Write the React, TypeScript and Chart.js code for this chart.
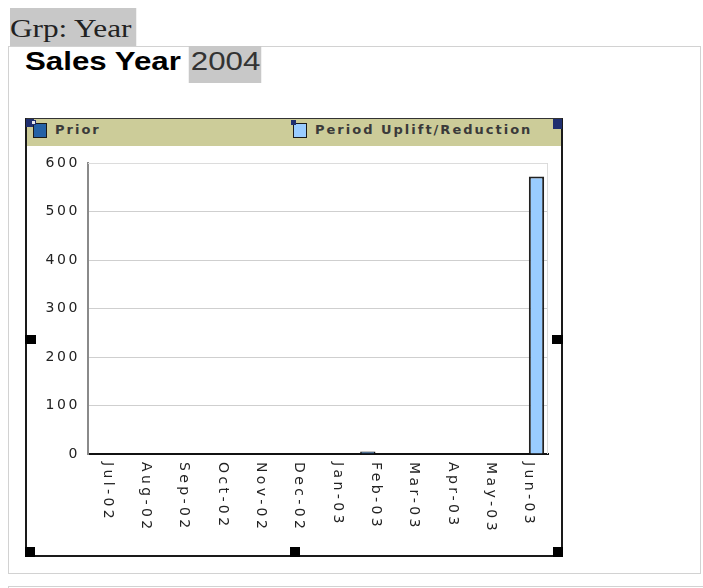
import React, { useEffect, useRef } from "react";
import { Chart, registerables } from "chart.js";

Chart.register(...registerables);

// ---- data ----
const categories = ["Jul-02", "Aug-02", "Sep-02", "Oct-02", "Nov-02", "Dec-02", "Jan-03", "Feb-03", "Mar-03", "Apr-03", "May-03", "Jun-03"];
const priorValues = [null, null, null, null, null, null, null, 5, null, null, null, null];
const upliftValues = [null, null, null, null, null, null, null, null, null, null, null, 572];
const seriesNames = ["Prior", "Period Uplift/Reduction"];
const yTickMin = 0;
const yTickMax = 600;
const yTickStep = 100;
const groupLabel = "Grp: Year";
const headingText = "Sales Year";
const headingYear = "2004";

// ---- styles ----
const seriesFill = ["#2462a6", "#99ccff"];
const seriesBorder = ["#111111", "#222222"];
const legendOffsets = [6, 266];

const chartDecor = {
  id: "chartDecor",
  beforeDraw(chart: any) {
    chart.ctx.letterSpacing = "2.6px";
  },
  beforeDatasetsDraw(chart: any) {
    const { ctx, chartArea } = chart;
    ctx.save();
    ctx.strokeStyle = "#dcdcdc";
    ctx.lineWidth = 1;
    ctx.beginPath();
    ctx.moveTo(chartArea.left, chartArea.top + 0.5);
    ctx.lineTo(chartArea.right - 0.5, chartArea.top + 0.5);
    ctx.lineTo(chartArea.right - 0.5, chartArea.bottom);
    ctx.stroke();
    ctx.restore();
  },
  afterDraw(chart: any) {
    const { ctx, chartArea } = chart;
    const xs = chart.scales.x;
    ctx.save();
    ctx.font = '14px "DejaVu Sans"';
    ctx.letterSpacing = "3.4px";
    ctx.fillStyle = "#222222";
    ctx.textAlign = "left";
    ctx.textBaseline = "middle";
    (chart.data.labels as string[]).forEach((lab, i) => {
      const x = xs.getPixelForTick(i);
      ctx.save();
      ctx.translate(x, chartArea.bottom + 8);
      ctx.rotate(Math.PI / 2);
      ctx.fillText(lab, 0, 0);
      ctx.restore();
    });
    ctx.restore();
  },
};

function Handle({ x, y, w, h, color }: { x: number; y: number; w: number; h: number; color?: string }) {
  return <div style={{ position: "absolute", left: x, top: y, width: w, height: h, background: color || "#000" }} />;
}

export default function App() {
  const ref = useRef<HTMLCanvasElement>(null);

  useEffect(() => {
    const chart = new Chart(ref.current!, {
      type: "bar",
      data: {
        labels: categories,
        datasets: [
          {
            label: seriesNames[0],
            data: priorValues as any,
            backgroundColor: seriesFill[0],
            borderColor: seriesBorder[0],
            borderWidth: 1.5,
          },
          {
            label: seriesNames[1],
            data: upliftValues as any,
            backgroundColor: seriesFill[1],
            borderColor: seriesBorder[1],
            borderWidth: 2,
          },
        ],
      },
      options: {
        responsive: false,
        animation: false,
        devicePixelRatio: 1,
        layout: { padding: { top: 17, right: 13, left: 0, bottom: 0 } },
        datasets: { bar: { categoryPercentage: 0.8, barPercentage: 1.0 } },
        plugins: { legend: { display: false }, tooltip: { enabled: false } },
        scales: {
          x: {
            grid: { display: false, drawTicks: false },
            border: { display: true, color: "#111111", width: 2 },
            ticks: { display: false },
            afterFit: (s: any) => {
              s.height = 101;
            },
          },
          y: {
            min: yTickMin,
            max: yTickMax,
            grid: { color: "#cfcfcf", lineWidth: 1, drawTicks: false },
            border: { display: true, color: "#8a8a8a", width: 2 },
            ticks: {
              stepSize: yTickStep,
              padding: 8,
              color: "#222222",
              font: { family: "DejaVu Sans", size: 14 },
            },
            afterFit: (s: any) => {
              s.width = 61;
            },
          },
        },
      },
      plugins: [chartDecor],
    });
    return () => chart.destroy();
  }, []);

  return (
    <div>
      {/* outer boxes */}
      <div
        style={{
          position: "absolute",
          left: 8,
          top: 46,
          width: 693,
          height: 528,
          border: "1px solid #d2d2d2",
          boxSizing: "border-box",
        }}
      />
      <div
        style={{
          position: "absolute",
          left: 8,
          top: 586,
          width: 695,
          height: 10,
          borderTop: "1px solid #d2d2d2",
          borderLeft: "1px solid #d2d2d2",
        }}
      />
      {/* group label */}
      <div
        style={{
          position: "absolute",
          left: 10,
          top: 8,
          height: 38,
          width: 101,
          background: "#c8c8c8",
          transform: "scaleX(1.25)",
          transformOrigin: "left top",
          fontFamily: '"Liberation Serif", serif',
          fontSize: 25,
          lineHeight: "26px",
          paddingTop: 8,
          boxSizing: "border-box",
          color: "#222",
          whiteSpace: "nowrap",
          zIndex: 2,
        }}
      >
        {groupLabel}
      </div>
      {/* heading */}
      <div
        style={{
          position: "absolute",
          left: 25,
          top: 46,
          transform: "scaleX(1.25)",
          transformOrigin: "left top",
          fontFamily: '"Liberation Sans", Arial, sans-serif',
          fontSize: 25,
          whiteSpace: "nowrap",
          color: "#000",
        }}
      >
        <span style={{ fontWeight: "bold" }}>{headingText}</span>
        <span
          style={{
            display: "inline-block",
            marginLeft: 6,
            height: 37,
            lineHeight: "30px",
            paddingBottom: 7,
            paddingLeft: 2,
            paddingRight: 1,
            boxSizing: "border-box",
            background: "#c8c8c8",
            color: "#333",
          }}
        >
          {headingYear}
        </span>
      </div>
      {/* chart frame */}
      <div
        style={{
          position: "absolute",
          left: 25,
          top: 118,
          width: 538,
          height: 439,
          borderLeft: "2px solid #1a1a1a",
          borderRight: "2px solid #1a1a1a",
          borderBottom: "2px solid #1a1a1a",
          borderTop: "1px solid #333",
          boxSizing: "border-box",
        }}
      />
      {/* legend bar */}
      <div style={{ position: "absolute", left: 27, top: 119, width: 534, height: 27, background: "#cccc99" }} />
      <Handle x={26} y={119} w={8} h={8} color="#1f2f6f" />
      <Handle x={553} y={119} w={9} h={10} color="#1f2f6f" />
      {seriesNames.map((name, i) => (
        <React.Fragment key={name}>
          <div
            style={{
              position: "absolute",
              left: 27 + legendOffsets[i],
              top: 123,
              width: 14,
              height: 15,
              background: seriesFill[i],
              border: "1px solid #1a1a1a",
              boxSizing: "border-box",
            }}
          />
          <div
            style={{
              position: "absolute",
              left: 27 + legendOffsets[i] - 2,
              top: 120,
              width: 5,
              height: 5,
              background: i === 0 ? "#e8e8f0" : "#1f2f6f",
              border: "1px solid #1f2f6f",
              boxSizing: "border-box",
            }}
          />
          <div
            style={{
              position: "absolute",
              left: 27 + legendOffsets[i] + 22,
              top: 123,
              fontFamily: '"DejaVu Sans", sans-serif',
              fontWeight: "bold",
              fontSize: 13,
              lineHeight: "13px",
              letterSpacing: "2px",
              color: "#3a3a3a",
              whiteSpace: "nowrap",
            }}
          >
            {name}
          </div>
        </React.Fragment>
      ))}
      <canvas
        ref={ref}
        width={534}
        height={409}
        style={{ position: "absolute", left: 27, top: 146, width: 534, height: 409 }}
      />
      {/* selection handles */}
      <Handle x={25} y={335} w={11} h={9} />
      <Handle x={552} y={335} w={11} h={9} />
      <Handle x={25} y={547} w={10} h={10} />
      <Handle x={290} y={547} w={10} h={10} />
      <Handle x={553} y={547} w={10} h={10} />
    </div>
  );
}
